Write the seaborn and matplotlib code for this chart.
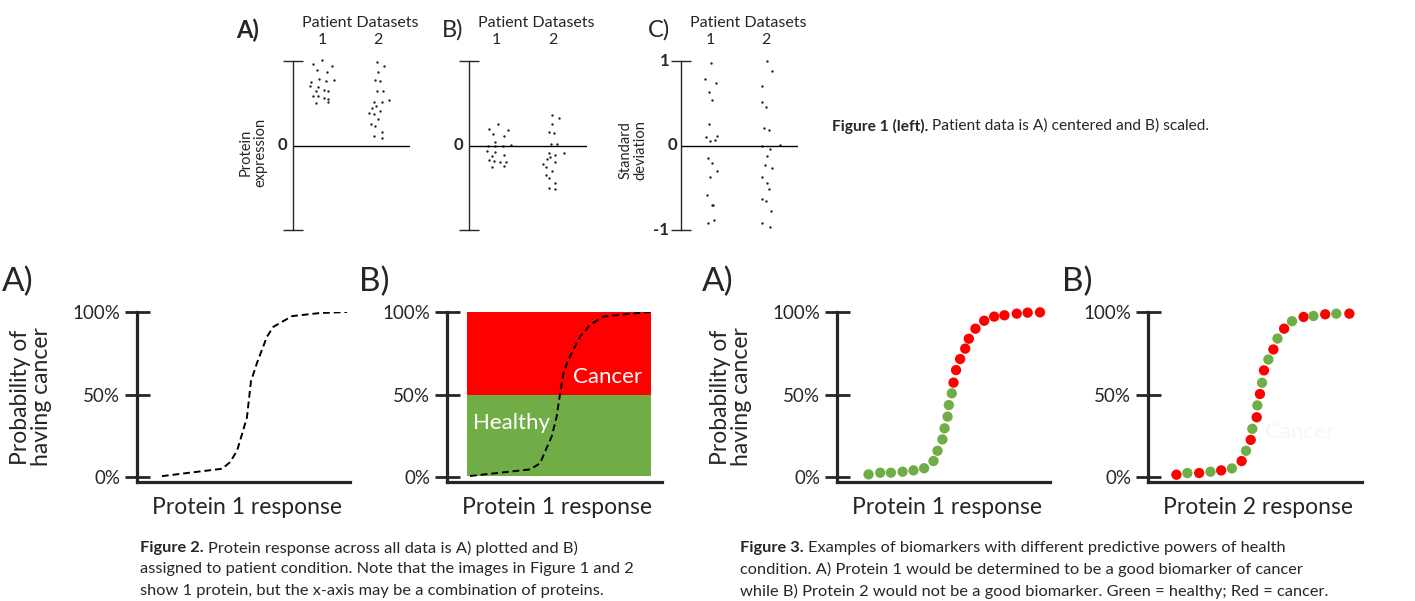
import numpy as np
import pandas as pd
import matplotlib
matplotlib.use('Agg')
import matplotlib.pyplot as plt
import seaborn as sns

W, H = 1415, 601

# Figura 1 - pontos dos pacientes (deslocamento horizontal, valor)
a1_off = [-0.01, -0.17, -0.09, 0.17, 0.09, -0.19, -0.05, 0.07, 0.22, -0.21, -0.07, -0.11, 0.04, 0.11, -0.17, -0.08, 0.04, 0.11, -0.11, 0.10]
a1_y = [1.01, 0.96, 0.89, 0.94, 0.87, 0.75, 0.79, 0.76, 0.77, 0.70, 0.69, 0.64, 0.66, 0.65, 0.58, 0.58, 0.56, 0.55, 0.50, 0.51]
a2_off = [-0.02, 0.11, -0.01, -0.06, 0.04, -0.02, 0.08, 0.20, -0.07, 0.07, -0.04, -0.11, 0.04, -0.17, -0.07, -0.01, -0.12, -0.05, 0.07, -0.07, 0.07]
a2_y = [0.99, 0.94, 0.87, 0.78, 0.76, 0.64, 0.64, 0.54, 0.52, 0.51, 0.47, 0.44, 0.41, 0.39, 0.37, 0.31, 0.25, 0.23, 0.16, 0.11, 0.09]

b1_off = [0.03, -0.13, -0.06, 0.21, 0.13, -0.02, 0.25, -0.15, -0.03, 0.11, -0.17, -0.02, -0.07, 0.14, -0.13, -0.04, 0.07, 0.16, -0.07, 0.14]
b1_y = [0.25, 0.19, 0.14, 0.18, 0.11, 0.04, 0.01, -0.01, -0.01, -0.01, -0.06, -0.08, -0.12, -0.11, -0.17, -0.18, -0.20, -0.20, -0.26, -0.24]
b2_off = [-0.03, 0.10, -0.02, -0.07, 0.02, -0.04, 0.07, -0.08, 0.04, 0.19, -0.11, -0.05, 0.03, -0.18, -0.12, -0.02, -0.13, -0.08, 0.04, -0.08, 0.04]
b2_y = [0.36, 0.32, 0.25, 0.16, 0.15, 0.02, 0.02, -0.09, -0.11, -0.09, -0.16, -0.14, -0.20, -0.22, -0.25, -0.30, -0.35, -0.38, -0.44, -0.50, -0.52]

c1_off = [0.01, -0.09, 0.10, -0.03, 0.04, -0.02, -0.08, 0.13, -0.01, 0.09, -0.04, 0.04, 0.12, 0.00, -0.05, 0.05, 0.03, 0.07, -0.04]
c1_y = [0.98, 0.79, 0.74, 0.63, 0.54, 0.25, 0.10, 0.11, 0.05, 0.06, -0.15, -0.21, -0.30, -0.37, -0.59, -0.70, -0.71, -0.88, -0.92]
c2_off = [0.02, 0.11, -0.06, -0.06, 0.01, -0.04, 0.06, -0.07, 0.07, 0.25, 0.02, -0.02, 0.12, -0.06, 0.03, 0.06, -0.06, 0.00, 0.09, -0.07, 0.07]
c2_y = [1.0, 0.88, 0.70, 0.51, 0.46, 0.21, 0.18, -0.01, -0.04, 0.01, -0.12, -0.23, -0.27, -0.37, -0.44, -0.52, -0.63, -0.66, -0.77, -0.92, -0.96]

# Figura 2 - curvas de probabilidade
f2a_x = [0.117, 0.235, 0.40, 0.437, 0.47, 0.516, 0.535, 0.563, 0.61, 0.64, 0.728, 0.86, 0.986]
f2a_y = [0.5, 2.4, 5, 9, 16, 36, 58, 69, 85, 91, 97.5, 99.4, 100]
f2b_x = [0.107, 0.247, 0.386, 0.433, 0.456, 0.487, 0.510, 0.526, 0.541, 0.564, 0.619, 0.665, 0.727, 0.836, 0.944]
f2b_y = [0.6, 2.6, 4.6, 8.3, 15.4, 24.6, 36.6, 50.7, 62.8, 70.9, 85.1, 92.1, 97.2, 98.8, 100]
regiao_x = [0.093, 0.949]
faixas = [(0.5, 50, 'healthy'), (50, 100.5, 'cancer')]

# Figura 3 - biomarcadores
f3a_x = [0.148, 0.203, 0.253, 0.308, 0.359, 0.409, 0.453, 0.472, 0.495, 0.505, 0.519, 0.525, 0.539,
         0.547, 0.559, 0.578, 0.602, 0.619, 0.65, 0.691, 0.738, 0.786, 0.844, 0.895, 0.953]
f3a_y = [1.6, 2.6, 2.6, 3.2, 4.0, 5.3, 9.7, 15.9, 22.8, 29.5, 36.6, 43.6, 50.7,
         57.2, 64.8, 71.5, 77.8, 83.8, 89.9, 94.7, 97.2, 98.0, 99.0, 99.6, 99.8]
f3a_cond = ['healthy'] * 13 + ['cancer'] * 12
f3b_x = [0.133, 0.184, 0.239, 0.292, 0.342, 0.392, 0.4375, 0.458, 0.480, 0.4875, 0.508, 0.511, 0.523,
         0.533, 0.542, 0.5625, 0.586, 0.605, 0.636, 0.673, 0.727, 0.773, 0.828, 0.880, 0.941]
f3b_y = [1.4, 2.4, 2.4, 3.2, 4.0, 5.2, 9.66, 15.9, 22.5, 29.2, 36.2, 43.4, 50.3,
         57.1, 64.6, 71.2, 77.3, 83.9, 89.9, 94.4, 97.0, 97.6, 98.6, 99.0, 99.0]
f3b_cond = ['cancer', 'healthy'] * 12 + ['cancer']

pct_ticks = [0, 50, 100]
pct_labels = ['0%', '50%', '100%']
cores = {'healthy': '#70AD47', 'cancer': '#FF0000'}

sns.set_style('white')
plt.rcParams['font.family'] = ['Lato', 'DejaVu Sans']

fig = plt.figure(figsize=(W / 100, H / 100), dpi=100)


def caixa(l, t, r, b):
    return [l / W, 1 - b / H, (r - l) / W, (b - t) / H]


def texto(x, y, s, **kw):
    return fig.text(x / W, 1 - y / H, s, **kw)


# Figura 1
def painel_datasets(l, r, xlo, xhi, dados, letra, lx, bold, centro):
    ax = fig.add_axes(caixa(l, 61, r, 230))
    ax.set_xlim(xlo, xhi)
    ax.set_ylim(-1, 1)
    for s in ['top', 'right', 'bottom']:
        ax.spines[s].set_visible(False)
    ax.spines['left'].set_linewidth(1.0)
    ax.axhline(0, color='black', lw=1.0)
    ax.set_xticks([])
    ax.set_yticks([-1, 1])
    ax.tick_params(axis='y', left=True, direction='inout', length=15, width=1.0, labelleft=False)
    for pos, (off, ys) in enumerate(dados, start=1):
        df = pd.DataFrame({'x': np.array(off) + pos, 'y': ys})
        sns.scatterplot(data=df, x='x', y='y', ax=ax, color='#222222', s=3,
                        linewidth=0, clip_on=False, legend=False)
    ax.set_xlabel('')
    ax.set_ylabel('')
    ax.patch.set_alpha(0)
    texto(lx, 30, letra, fontsize=17, fontweight='bold' if bold else 'normal', va='center', ha='left')
    texto(centro, 23, 'Patient Datasets', fontsize=11.5, ha='center', va='center')
    for pos in [1, 2]:
        xd = ax.transData.transform((pos, 0))[0]
        texto(xd, 40, str(pos), fontsize=11.5, ha='center', va='center')
    return ax


ax1 = painel_datasets(293, 410, 0.48, 2.57, [(a1_off, a1_y), (a2_off, a2_y)], 'A)', 236, True, 360)
ax1.text(-0.05, 0, '0', transform=ax1.get_yaxis_transform(), ha='right', va='center',
         fontsize=12, fontweight='bold')
texto(253, 152, 'Protein\nexpression', rotation=90, fontsize=10.5, ha='center', va='center', linespacing=1.15)

ax2 = painel_datasets(469, 587, 0.516, 2.595, [(b1_off, b1_y), (b2_off, b2_y)], 'B)', 442, False, 536)
ax2.text(-0.05, 0, '0', transform=ax2.get_yaxis_transform(), ha='right', va='center',
         fontsize=12, fontweight='bold')

ax3 = painel_datasets(681, 798, 0.474, 2.58, [(c1_off, c1_y), (c2_off, c2_y)], 'C)', 648, False, 748)
for v, lab in [(1, '1'), (0, '0'), (-1, '-1')]:
    ax3.text(-0.10 if v != 0 else -0.03, v, lab, transform=ax3.get_yaxis_transform(),
             ha='right', va='center', fontsize=12, fontweight='bold')
texto(633, 150, 'Standard\ndeviation', rotation=90, fontsize=10.5, ha='center', va='center', linespacing=1.15)


# Figuras 2 e 3
def painel_resposta(l, r, letra, lx, xlabel, ylabel=True):
    ax = fig.add_axes(caixa(l, 312, r, 482))
    ax.set_xlim(0, 1)
    ax.set_ylim(-3.03, 100)
    for s in ['top', 'right']:
        ax.spines[s].set_visible(False)
    for s in ['left', 'bottom']:
        ax.spines[s].set_linewidth(2.3)
    ax.set_xticks([])
    ax.set_yticks(pct_ticks)
    ax.set_yticklabels(pct_labels, fontsize=13.5)
    ax.tick_params(axis='y', left=True, direction='inout', length=18, width=2.0, pad=3)
    ax.patch.set_alpha(0)
    texto(lx, 282, letra, fontsize=24, ha='left', va='center')
    texto((l + r) / 2 + 3, 507, xlabel, fontsize=16.5, ha='center', va='center')
    if ylabel:
        texto(l - 106, 397, 'Probability of\nhaving cancer', rotation=90, fontsize=16.5,
              ha='center', va='center', linespacing=1.05)
    return ax


axa = painel_resposta(137, 350, 'A)', 2, 'Protein 1 response')
sns.lineplot(x=f2a_x, y=f2a_y, ax=axa, color='black', lw=1.4, linestyle=(0, (3.5, 2)))

axb = painel_resposta(447, 662, 'B)', 359, 'Protein 1 response', ylabel=False)
for lo, hi, nome in faixas:
    axb.fill_between(regiao_x, lo, hi, color=cores[nome], lw=0)
axb.text(0.745, 60.6, 'Cancer', color='white', fontsize=16, ha='center', va='center')
axb.text(0.30, 33, 'Healthy', color='white', fontsize=16, ha='center', va='center')
sns.lineplot(x=f2b_x, y=f2b_y, ax=axb, color='black', lw=1.4, linestyle=(0, (3.5, 2)))

df3a = pd.DataFrame({'x': f3a_x, 'y': f3a_y, 'cond': f3a_cond})
df3b = pd.DataFrame({'x': f3b_x, 'y': f3b_y, 'cond': f3b_cond})

axc = painel_resposta(837, 1050, 'A)', 702, 'Protein 1 response')
sns.scatterplot(data=df3a, x='x', y='y', hue='cond', palette=cores, s=55, linewidth=0,
                ax=axc, legend=False, clip_on=False)

axd = painel_resposta(1148, 1362, 'B)', 1062, 'Protein 2 response', ylabel=False)
axd.text(0.71, 27, 'Cancer', color='#f6f6f6', fontsize=16, ha='center', va='center')
sns.scatterplot(data=df3b, x='x', y='y', hue='cond', palette=cores, s=55, linewidth=0,
                ax=axd, legend=False, clip_on=False)

for ax in [axa, axb, axc, axd]:
    ax.set_xlabel('')
    ax.set_ylabel('')

# Legendas das figuras
cap1 = ['Patient data is A) centered and B) scaled.']
cap2 = ['Protein response across all data is A) plotted and B)',
        'assigned to patient condition. Note that the images in Figure 1 and 2',
        'show 1 protein, but the x-axis may be a combination of proteins.']
cap3 = ['Examples of biomarkers with different predictive powers of health',
        'condition. A) Protein 1 would be determined to be a good biomarker of cancer',
        'while B) Protein 2 would not be a good biomarker. Green = healthy; Red = cancer.']

fig.canvas.draw()
rend = fig.canvas.get_renderer()


def legenda(x0, y0, titulo, linhas, dy=21.5, fs=11.8):
    t = texto(x0, y0, titulo, fontsize=fs, fontweight='bold', ha='left', va='center')
    larg = t.get_window_extent(rend).width
    for i, linha in enumerate(linhas):
        if i == 0:
            texto(x0 + larg + 4, y0, linha, fontsize=fs, ha='left', va='center')
        else:
            texto(x0, y0 + i * dy, linha, fontsize=fs, ha='left', va='center')


legenda(832, 126, 'Figure 1 (left).', cap1, fs=11.2)
legenda(140, 548, 'Figure 2.', cap2)
legenda(740, 548, 'Figure 3.', cap3)

fig.savefig('out.png', dpi=100)
